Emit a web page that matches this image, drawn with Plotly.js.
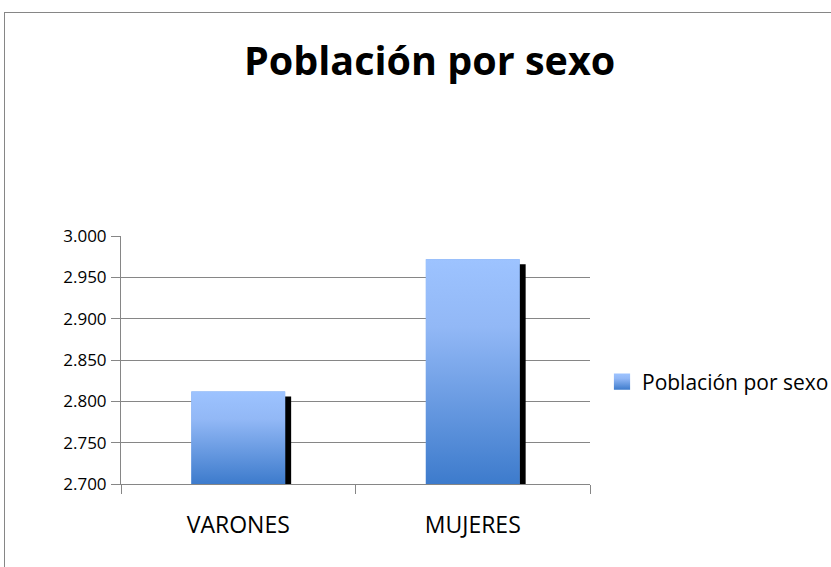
<!DOCTYPE html>
<html><head><meta charset="utf-8">
<script src="https://cdn.plot.ly/plotly-3.0.1.min.js"></script>
<style>
html,body{margin:0;padding:0;background:#fff;overflow:hidden;width:831px;height:567px}
#frame{position:absolute;left:4px;top:12px;width:900px;height:700px;border:1px solid #868686;}
#chart{position:absolute;left:0;top:0;width:831px;height:567px}
</style>
</head><body><div id="frame"></div><div id="chart"></div>
<script>
const categories = ['VARONES', 'MUJERES'];
const values = [2812, 2972];
const seriesName = 'Población por sexo';
const chartTitle = 'Población por sexo';
const yRange = [2700, 3000];

const gray = '#868686';
const fontFam = '"Open Sans", "DejaVu Sans", sans-serif';

const trace = {
  type: 'bar',
  x: categories,
  y: values.map(function (v) { return v - yRange[0]; }),
  base: yRange[0],
  name: seriesName,
  marker: {color: '#6FA0E8', line: {width: 0}},
  showlegend: true,
  hoverinfo: 'none'
};

const layout = {
  width: 831, height: 567,
  margin: {l: 121, r: 241, t: 236, b: 83, autoexpand: false},
  paper_bgcolor: 'rgba(0,0,0,0)',
  plot_bgcolor: 'rgba(0,0,0,0)',
  separators: ',.',
  bargap: 0.6,
  font: {family: fontFam, color: '#000', size: 17},
  title: {
    text: chartTitle,
    font: {family: fontFam, size: 39.5, color: '#000', weight: 'bold'},
    x: 0.517, xref: 'container', xanchor: 'center',
    y: 1 - 61/567, yref: 'container', yanchor: 'middle'
  },
  xaxis: {
    type: 'category',
    showline: true, linecolor: gray, linewidth: 1,
    ticks: 'outside', tickson: 'boundaries', ticklen: 9, tickcolor: gray, tickwidth: 1,
    showgrid: false, zeroline: false,
    tickfont: {family: fontFam, size: 23, color: '#000'},
    ticklabelstandoff: 20
  },
  yaxis: {
    range: yRange, dtick: 50, tick0: 2700, tickformat: ',d',
    showline: true, linecolor: gray, linewidth: 1,
    ticks: 'outside', ticklen: 9, tickcolor: gray, tickwidth: 1,
    showgrid: true, gridcolor: gray, gridwidth: 1, zeroline: false,
    tickfont: {family: fontFam, size: 17, color: '#000'},
    ticklabelstandoff: 1
  },
  legend: {
    x: (602 - 121) / 469, xanchor: 'left',
    y: (484 - 382) / 248, yanchor: 'middle',
    font: {family: fontFam, size: 21, color: '#000'},
    bgcolor: 'rgba(0,0,0,0)'
  },
  showlegend: true
};

const NS = 'http://www.w3.org/2000/svg';
function mk(tag, attrs) {
  const el = document.createElementNS(NS, tag);
  for (const k in attrs) el.setAttribute(k, attrs[k]);
  return el;
}

function addGrad(defs, id) {
  const g = mk('linearGradient', {id: id, x1: '0', y1: '0', x2: '0', y2: '1'});
  g.appendChild(mk('stop', {offset: '0', 'stop-color': '#9DC3FF'}));
  g.appendChild(mk('stop', {offset: '0.3', 'stop-color': '#92B8F6'}));
  g.appendChild(mk('stop', {offset: '1', 'stop-color': '#3D7BCC'}));
  defs.appendChild(g);
}

Plotly.newPlot('chart', [trace], layout, {staticPlot: true}).then(function () {
  const svg = document.querySelector('#chart .main-svg');
  let defs = svg.querySelector('defs');
  if (!defs) { defs = mk('defs', {}); svg.insertBefore(defs, svg.firstChild); }
  addGrad(defs, 'barGrad');
  document.querySelectorAll('#chart .barlayer .point path').forEach(function (p) {
    const sh = p.cloneNode(true);
    sh.removeAttribute('style');
    sh.setAttribute('fill', '#000');
    sh.setAttribute('transform', 'translate(6,5)');
    p.parentNode.insertBefore(sh, p);
    const gp = p.cloneNode(true);
    gp.removeAttribute('style');
    gp.setAttribute('fill', 'url(#barGrad)');
    gp.setAttribute('stroke', 'none');
    p.parentNode.appendChild(gp);
  });
  document.querySelectorAll('#chart .legend .legendpoints path').forEach(function (p) {
    const gp = p.cloneNode(true);
    gp.removeAttribute('style');
    gp.setAttribute('fill', 'url(#barGrad)');
    gp.setAttribute('stroke', 'none');
    gp.setAttribute('transform', (p.getAttribute('transform') || '') + ' scale(1.35)');
    p.parentNode.appendChild(gp);
    p.style.opacity = '0';
  });
});
</script>
</body></html>
